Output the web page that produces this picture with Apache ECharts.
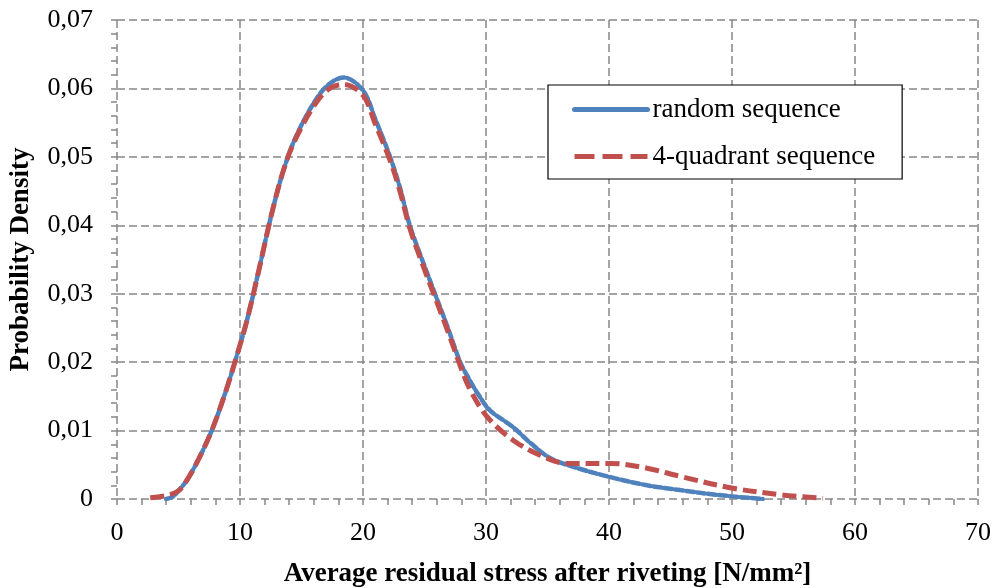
<!DOCTYPE html>
<html>
<head>
<meta charset="utf-8">
<script src="https://cdn.jsdelivr.net/npm/echarts@6/dist/echarts.min.js"></script>
<style>html,body{margin:0;padding:0;background:#fff}#c{width:995px;height:588px}</style>
</head>
<body>
<div id="c"></div>
<script>
var seriesNames = ['random sequence', '4-quadrant sequence'];
var xRandom = [4.0,4.5,5.0,5.7,6.6,7.7,8.8,9.7,10.55,11.4,12.7,13.8,14.9,16.3,17.3,18.4,20.0,21.0,22.2,23.0,23.8,24.8,25.85,26.9,27.9,28.6,29.3,30.3,32.2,33.6,35.2,37.1,40.1,43.1,45.8,48.8,52.5];
var yRandom = [0,0.0003,0.0012,0.0028,0.0057,0.010,0.0155,0.0207,0.026,0.0324,0.0426,0.0495,0.0543,0.0587,0.0607,0.0616,0.0597,0.0555,0.050,0.0455,0.040,0.035,0.030,0.025,0.020,0.0176,0.0155,0.013,0.0105,0.0082,0.006,0.0047,0.0032,0.002,0.0013,0.0006,0];
var xQuad = [2.7,4.0,5.0,5.7,6.6,7.7,8.8,9.7,10.55,11.4,12.7,13.8,14.9,16.3,17.3,18.4,20.0,21.0,22.2,23.0,23.8,24.8,25.85,26.9,27.9,28.7,30.1,32.2,34.4,36.6,40.1,43.1,45.8,50.0,54.1,57.4];
var yQuad = [0.0002,0.0005,0.0012,0.0028,0.0057,0.010,0.0155,0.0207,0.026,0.0324,0.0426,0.0495,0.0540,0.0582,0.0600,0.0606,0.0590,0.0548,0.0495,0.0450,0.0396,0.0345,0.0295,0.0245,0.0195,0.016,0.012,0.0086,0.0064,0.0052,0.0052,0.0045,0.0033,0.0016,0.0006,0.0001];
var xTitle = 'Average residual stress after riveting [N/mm²]';
var yTitle = 'Probability Density';

function pairs(xs, ys){ return xs.map(function(x,i){ return [x, ys[i]]; }); }

var font = '"Liberation Serif", "Times New Roman", serif';
var gridLine = {show:true, lineStyle:{color:'#878787', width:1.5, type:[8,4]}};
var chart = echarts.init(document.getElementById('c'));
chart.setOption({
  animation:false,
  grid:{left:117, right:17, top:20, bottom:89, containLabel:false, outerBoundsMode:'none'},
  xAxis:{
    type:'value', min:0, max:70, interval:10,
    axisLine:{show:false},
    axisTick:{show:true, length:6, lineStyle:{color:'#878787', width:1.5}},
    minorTick:{show:true, splitNumber:5, length:6, lineStyle:{color:'#878787', width:1.5}},
    splitLine:gridLine,
    axisLabel:{fontFamily:font, fontSize:26, color:'#000', margin:21},
    name:xTitle, nameLocation:'middle', nameGap:62,
    nameTextStyle:{fontFamily:font, fontSize:27, fontWeight:'bold', color:'#000'}
  },
  yAxis:{
    type:'value', min:0, max:0.07, interval:0.01,
    axisLine:{show:false},
    axisTick:{show:true, length:6, lineStyle:{color:'#878787', width:1.5}},
    minorTick:{show:true, splitNumber:5, length:6, lineStyle:{color:'#878787', width:1.5}},
    splitLine:gridLine,
    axisLabel:{fontFamily:font, fontSize:26, color:'#000', margin:24,
      formatter:function(v){ return v===0 ? '0' : v.toFixed(2).replace('.', ','); }},
    name:yTitle, nameLocation:'middle', nameGap:82,
    nameTextStyle:{fontFamily:font, fontSize:27, fontWeight:'bold', color:'#000'}
  },
  legend:{
    orient:'vertical', left:548, top:85,
    borderColor:'#000', borderWidth:1.2, backgroundColor:'#fff',
    padding:[11,27,9,24], itemGap:20,
    itemWidth:73, itemHeight:14,
    textStyle:{fontFamily:font, fontSize:27, color:'#000'},
    data:[
      {name:seriesNames[0], itemStyle:{opacity:0}, lineStyle:{type:'solid', width:5, cap:'round'}},
      {name:seriesNames[1], itemStyle:{opacity:0}, lineStyle:{type:[20,8], width:5}}
    ]
  },
  series:[
    {name:seriesNames[0], type:'line', smooth:0.35, symbol:'none', z:2,
     data:pairs(xRandom, yRandom),
     itemStyle:{color:'#4F81BD'},
     lineStyle:{color:'#4F81BD', width:4.5, type:[8,3], cap:'round'}},
    {name:seriesNames[1], type:'line', smooth:0.35, symbol:'none', z:3,
     data:pairs(xQuad, yQuad),
     itemStyle:{color:'#C0504D'},
     lineStyle:{color:'#C0504D', width:5, type:[14,6]}}
  ]
});
</script>
</body>
</html>
